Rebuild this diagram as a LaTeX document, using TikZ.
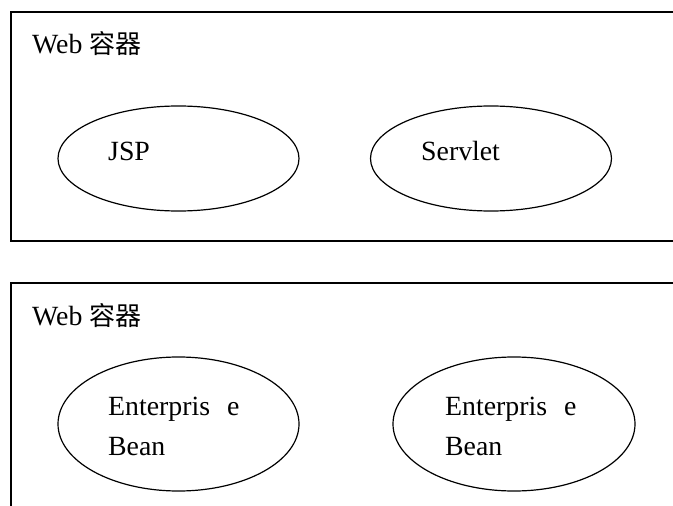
\documentclass[tikz,border=0pt]{standalone}
\usepackage{fontspec}
\setmainfont{Liberation Serif}
\newfontfamily\cjk{Noto Sans CJK SC}
\usetikzlibrary{shapes.geometric}
\begin{document}
\begin{tikzpicture}[x=1pt,y=-1pt,
  box/.style={line width=1.4pt},
  oval/.style={draw, ellipse, line width=1.2pt, inner sep=0pt},
  lbl/.style={anchor=base west, inner sep=0pt, font=\fontsize{27.8}{30}\selectfont}]
\useasboundingbox (0,0) rectangle (673,506);
\clip (0,0) rectangle (673,506);
% containers (open to the right / bottom, as cropped in the reference)
\coordinate (c1a) at (700,12);
\coordinate (c1b) at (11,12);
\coordinate (c1c) at (11,241);
\coordinate (c1d) at (700,241);
\draw[box] (c1a) -- (c1b) -- (c1c) -- (c1d);
\coordinate (c2a) at (700,283);
\coordinate (c2b) at (11,283);
\coordinate (c2c) at (11,530);
\draw[box] (c2a) -- (c2b) -- (c2c);
% labels of containers
\node[lbl] (web1) at (32,53.5) {Web {\cjk\fontsize{26}{30}\selectfont 容器}};
\node[lbl] (web2) at (32,325) {Web {\cjk\fontsize{26}{30}\selectfont 容器}};
% ovals
\node[oval, minimum width=241pt, minimum height=105pt] (jsp) at (178.5,158.5) {};
\node[oval, minimum width=241pt, minimum height=105pt] (servlet) at (491,158.5) {};
\node[oval, minimum width=241pt, minimum height=134pt] (eb1) at (178.5,424) {};
\node[oval, minimum width=242pt, minimum height=134pt] (eb2) at (514,424) {};
% texts
\node[lbl] (tjsp) at (108,160) {JSP};
\node[lbl] (tserv) at (421,160) {Servlet};
\node[lbl] (te1a) at (108,415) {Enterpris\hspace{17pt}e};
\node[lbl] (te1b) at (108,455) {Bean};
\node[lbl] (te2a) at (445,415) {Enterpris\hspace{17pt}e};
\node[lbl] (te2b) at (445,455) {Bean};
\end{tikzpicture}
\end{document}
